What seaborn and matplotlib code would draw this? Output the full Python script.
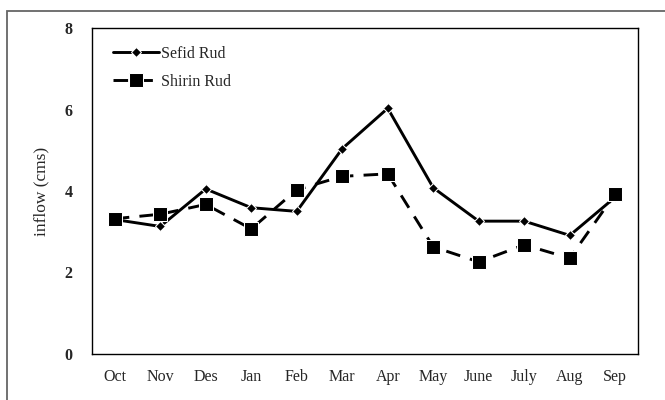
import pandas as pd
import seaborn as sns
import matplotlib.pyplot as plt
from matplotlib.patches import Rectangle

# dados
meses = ['Oct', 'Nov', 'Des', 'Jan', 'Feb', 'Mar', 'Apr', 'May', 'June', 'July', 'Aug', 'Sep']
sefid_rud = [3.30, 3.13, 4.05, 3.59, 3.50, 5.04, 6.03, 4.08, 3.26, 3.26, 2.91, 3.85]
shirin_rud = [3.32, 3.43, 3.67, 3.07, 4.03, 4.36, 4.42, 2.63, 2.26, 2.68, 2.35, 3.93]

df = pd.DataFrame({'mes': meses, 'Sefid Rud': sefid_rud, 'Shirin Rud': shirin_rud})

sns.set_style('white')
plt.rcParams['font.family'] = ['Liberation Serif', 'DejaVu Serif']

fig = plt.figure(figsize=(6.65, 4), dpi=100)
ax = fig.add_axes([92 / 665, 1 - 354 / 400, (638 - 92) / 665, (354 - 28) / 400])

# moldura externa da figura
fig.patches.append(Rectangle((7 / 665, -0.05), 1.1, 1.05 - 10.5 / 400,
                             transform=fig.transFigure, fill=False,
                             edgecolor='#666666', linewidth=1.3))

sns.lineplot(data=df, x='mes', y='Sefid Rud', ax=ax, color='black', linewidth=2.1,
             marker='D', markersize=5.5, label='Sefid Rud', sort=False)
sns.lineplot(data=df, x='mes', y='Shirin Rud', ax=ax, color='black', linewidth=2.1,
             marker='s', markersize=9.5, label='Shirin Rud', sort=False,
             dashes=False, linestyle=(0, (5, 3.5)))

ax.set_xlim(-0.5, len(meses) - 0.5)
ax.set_ylim(0, 8)
ax.set_yticks([0, 2, 4, 6, 8])
ax.set_xlabel('')
ax.set_ylabel('inflow (cms)', fontsize=12.5, labelpad=11)
ax.tick_params(axis='both', length=0, labelsize=11.5)
ax.tick_params(axis='x', pad=11)
ax.tick_params(axis='y', pad=14)
for lab in ax.get_yticklabels():
    lab.set_fontweight('bold')

for s in ax.spines.values():
    s.set_color('black')
    s.set_linewidth(1.0)

leg = ax.legend(loc='upper left', frameon=False, fontsize=11.5, handlelength=2.9,
                handletextpad=0.1, labelspacing=0.75, borderaxespad=0.4,
                bbox_to_anchor=(0.015, 0.985))

fig.savefig('out.png', dpi=100)
